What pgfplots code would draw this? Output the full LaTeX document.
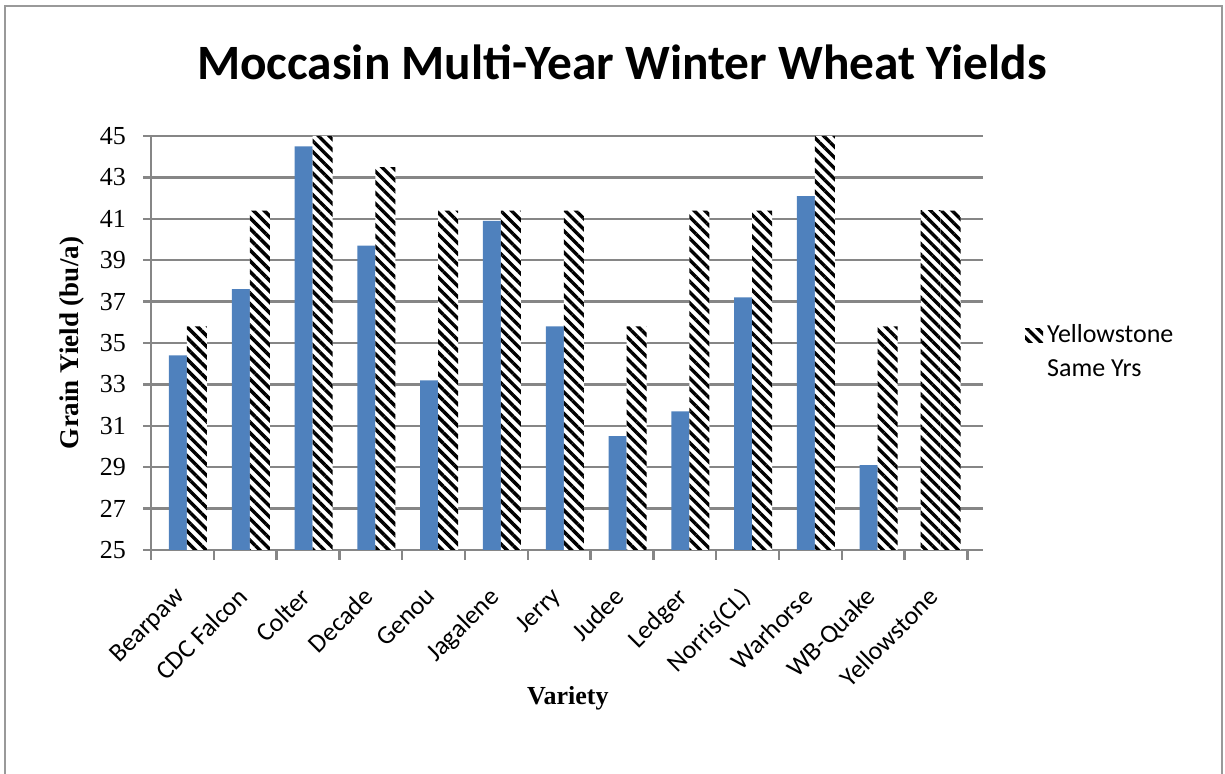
\documentclass[border=0pt]{standalone}
\usepackage{fontspec}
\setmainfont{Carlito}
\newfontfamily\serifb{Liberation Serif}
\usepackage{pgfplots}
\pgfplotsset{compat=1.18}
\usetikzlibrary{patterns.meta}
\definecolor{barblue}{RGB}{79,129,189}
\definecolor{gridgray}{RGB}{134,134,134}
\pgfplotstableread{
x blue hatch
0 34.4 35.8
1 37.6 41.4
2 44.5 45.0
3 39.7 43.5
4 33.2 41.4
5 40.9 41.4
6 35.8 41.4
7 30.5 35.8
8 31.7 41.4
9 37.2 41.4
10 42.1 45.0
11 29.1 35.8
12 nan 41.4
}\datatable
\begin{document}
\begin{tikzpicture}
\path[use as bounding box] (0,0) rectangle (612.5pt,387pt);
\draw[gray!80, line width=1pt] (2.5pt,-5pt) -- (2.5pt,384pt) -- (611pt,384pt) -- (611pt,-5pt);
\begin{axis}[
  at={(75.5pt,112pt)}, anchor=south west,
  scale only axis, width=416pt, height=207pt,
  xmin=-0.5, xmax=12.75, ymin=25, ymax=45,
  axis lines*=left,
  axis line style={gridgray, line width=1.2pt},
  ytick={25,27,...,45},
  ymajorgrids, grid style={gridgray, line width=1.2pt},
  tick align=outside,
  major y tick style={gridgray, line width=1.2pt},
  major tick length=4pt,
  xtick={0,...,12},
  major x tick style={draw=none},
  minor xtick={-0.5,0.5,...,12.5},
  minor x tick style={gridgray, line width=1.2pt},
  minor tick length=5pt,
  xticklabels={Bearpaw,CDC Falcon,Colter,Decade,Genou,Jagalene,Jerry,Judee,Ledger,Norris(CL),Warhorse,WB-Quake,Yellowstone},
  x tick label style={rotate=45, anchor=north east, font=\fontsize{13}{14}\selectfont, xshift=-9.5pt, yshift=-3.2pt},
  y tick label style={font=\serifb\fontsize{13}{14}\selectfont, xshift=-5pt},
  /pgf/number format/assume math mode=true,
  ylabel={Grain Yield (bu/a)},
  every axis y label/.style={at={(axis description cs:0,0.5)}, xshift=-39.5pt, anchor=center, rotate=90, font=\serifb\bfseries\fontsize{13.5}{14}\selectfont},
  xlabel={Variety},
  every axis x label/.style={at={(axis description cs:0.501,0)}, yshift=-74pt, anchor=center, font=\serifb\bfseries\fontsize{13}{14}\selectfont},
  legend style={at={(1.043,0.478)}, anchor=west, draw=none, fill=none, font=\fontsize{13}{17}\selectfont, cells={align=left}},
  legend cell align=left,
]
\addplot[ybar, bar width=9pt, bar shift=-2.2pt, fill=barblue, draw=none, forget plot] table[x=x, y=blue] {\datatable};
\addplot[ybar, bar width=10pt, bar shift=-2.7pt, fill=white, draw=none, forget plot,
  postaction={pattern={Lines[angle=-45,distance=3.8pt,line width=1.7pt]}, pattern color=black}]
  coordinates {(12,41.4)};
\addplot[ybar, bar width=10pt, bar shift=7.3pt, fill=white, draw=none,
  postaction={pattern={Lines[angle=-45,distance=3.8pt,line width=1.7pt]}, pattern color=black},
  legend image code/.code={\fill[white] (0pt,5pt) rectangle (9pt,12pt);}]
  table[x=x, y=hatch] {\datatable};
\addlegendentry{Yellowstone\\Same Yrs}
\end{axis}
\node[font=\bfseries\fontsize{24.7}{30}\selectfont] at (311pt,356pt) {Moccasin Multi-Year Winter Wheat Yields};
\end{tikzpicture}
\end{document}
